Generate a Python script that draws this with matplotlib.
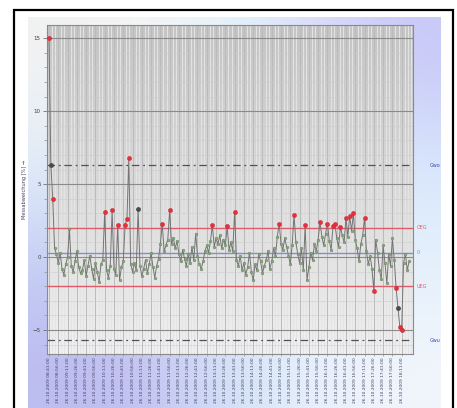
import numpy as np
import matplotlib
matplotlib.use("Agg")
import matplotlib.pyplot as plt
from matplotlib.patches import Rectangle
from matplotlib.colors import to_rgb

# ---------------- data ----------------
values = [
    15.0, 6.3, 4.0, 0.6, 0.2, -0.4, 0.3, -0.8, -1.2, -0.5,
    0.0, 1.9, -0.6, -1.0, -0.3, 0.4, -0.7, -1.1, -0.9, -0.2,
    -1.3, -0.6, 0.1, -0.8, -1.5, -0.4, -1.0, -1.7, -0.5, -0.2,
    3.1, -0.9, -1.4, -0.6, 3.2, -0.8, -1.2, 2.2, -1.6, -0.7,
    -0.3, 2.2, 2.6, 6.8, -0.5, -1.0, -0.4, -0.9, 3.3, -0.6,
    -1.3, -0.8, -0.2, -1.1, -0.5, 0.3, -0.7, -1.4, -0.6, -0.1,
    0.9, 2.3, 0.4, 0.8, 1.2, 3.2, 0.9, 1.3, 0.6, 1.1,
    0.2, -0.3, 0.5, -0.1, -0.6, 0.2, -0.4, 0.7, -0.2, 1.6,
    0.1, -0.5, -0.8, -0.3, 0.4, 0.8, 0.3, 1.1, 2.2, 0.7,
    1.3, 0.9, 1.5, 0.6, 1.2, 0.8, 2.1, 0.5, 1.0, 0.4,
    3.1, -0.2, -0.6, 0.1, -0.9, -0.4, -1.2, -0.7, 0.3, -1.0,
    -1.6, -0.5, -0.9, 0.2, -0.3, -1.1, -0.6, -0.2, 0.4, -0.8,
    -0.3, 0.6, 0.1, 1.4, 2.3, 0.9, 0.5, 1.3, 0.7, 0.1,
    -0.5, 0.8, 2.9, 1.0, 0.2, -0.4, 0.6, -0.9, 2.2, -1.6,
    -0.7, 0.3, -0.2, 0.9, 0.4, 1.2, 2.4, 1.4, 0.8, 1.6,
    2.3, 1.1, 0.5, 2.1, 2.3, 1.3, 0.7, 2.05, 1.5, 1.0,
    2.7, 1.4, 2.8, 1.8, 3.0, 1.2, 0.6, -0.3, 0.9, 1.5,
    2.7, 0.4, -0.5, 0.1, -0.8, -2.3, 1.2, 0.3, -0.9, -1.5,
    0.8, -0.4, -1.8, 0.2, -0.6, 1.3, -0.2, -2.1, -3.5, -4.8,
    -5.0, -0.4, 0.2, -0.9, -0.3,
]
dark_points = [1, 48, 188]          # points drawn dark grey

oeg = 2.0        # upper limit
ueg = -2.0       # lower limit
center = 0.3     # centre line
gwo = 6.3        # upper warning
gwu = -5.7       # lower warning

tick_labels = [
    "26.10.2009 08:41:00", "26.10.2009 08:56:00", "26.10.2009 09:11:00",
    "26.10.2009 09:26:00", "26.10.2009 09:41:00", "26.10.2009 09:56:00",
    "26.10.2009 10:11:00", "26.10.2009 10:26:00", "26.10.2009 10:41:00",
    "26.10.2009 10:56:00", "26.10.2009 11:11:00", "26.10.2009 11:26:00",
    "26.10.2009 11:41:00", "26.10.2009 11:56:00", "26.10.2009 12:11:00",
    "26.10.2009 12:26:00", "26.10.2009 12:41:00", "26.10.2009 12:56:00",
    "26.10.2009 13:11:00", "26.10.2009 13:26:00", "26.10.2009 13:41:00",
    "26.10.2009 13:56:00", "26.10.2009 14:11:00", "26.10.2009 14:26:00",
    "26.10.2009 14:41:00", "26.10.2009 14:56:00", "26.10.2009 15:11:00",
    "26.10.2009 15:26:00", "26.10.2009 15:41:00", "26.10.2009 15:56:00",
    "26.10.2009 16:11:00", "26.10.2009 16:26:00", "26.10.2009 16:41:00",
    "26.10.2009 16:56:00", "26.10.2009 17:11:00", "26.10.2009 17:26:00",
    "26.10.2009 17:41:00", "26.10.2009 17:56:00", "26.10.2009 18:11:00",
]
y_label = "Messabweichung [%] \u2192"

# ---------------- figure ----------------
W, H = 457, 408
fig = plt.figure(figsize=(W / 100, H / 100), dpi=100)
fig.patch.set_facecolor("white")

# gradient background of the chart image
bg = fig.add_axes([28 / W, 0, 413 / W, 1 - 17 / H], zorder=0)
grid_cols = [
    ["#f2f2f2", "#f6f6f6", "#e2f4fc", "#dcdcf8", "#c8c8f8"],
    ["#e2eefa", "#eeeeee", "#eaeaea", "#e4ecfa", "#d8e8fc"],
    ["#c4cef4", "#e0e0f0", "#e8eef8", "#e6f0fc", "#e4f0fc"],
    ["#bcbcf0", "#c2c2f2", "#d4e4f8", "#e8f0fc", "#f2f6fc"],
]
arr = np.array([[to_rgb(c) for c in row] for row in grid_cols])
bg.imshow(arr, aspect="auto", interpolation="bicubic", extent=[0, 1, 0, 1])
bg.set_axis_off()

# black frame
fig.patches.append(Rectangle((14 / W, -0.05), 439 / W, 1.05 - 10 / H,
                             transform=fig.transFigure, fill=False,
                             edgecolor="black", linewidth=1.6, zorder=10))

ax = fig.add_axes([47 / W, 1 - 354 / H, 366 / W, 329 / H], zorder=1)
ymin, ymax = -6.64, 15.9
xmin, xmax = -1.08, 196.1
ax.set_xlim(xmin, xmax)
ax.set_ylim(ymin, ymax)

# plot area gradient
grad = np.linspace(0.77, 0.94, 64).reshape(-1, 1)
ax.imshow(np.dstack([grad, grad, grad]), aspect="auto",
          extent=[xmin, xmax, ymin, ymax], origin="upper", zorder=0)

x = np.arange(len(values))
tick_pos = np.arange(len(tick_labels)) * 5

# vertical grid lines
for t in np.arange(0, xmax, 5 / 3):
    ax.axvline(t, color="#e4e4e4", lw=0.7, zorder=1)
for t in tick_pos:
    ax.axvline(t, color="#b4b4b4", lw=0.6, zorder=1)
# horizontal grid
for yv in range(-6, 16):
    ax.axhline(yv, color="#cccccc", lw=0.4, zorder=1)
for yv in [-5, 0, 5, 10, 15]:
    ax.axhline(yv, color="#8a8a8a", lw=0.8, zorder=1.5)

# limit lines
ax.axhline(oeg, color="#e05a6a", lw=1.0, zorder=2)
ax.axhline(ueg, color="#e05a6a", lw=1.0, zorder=2)
ax.axhline(center, color="#8090c8", lw=1.0, zorder=2)
ax.axhline(gwo, color="#505060", lw=0.9, ls=(0, (6, 3, 1.5, 3)), zorder=2)
ax.axhline(gwu, color="#505060", lw=0.9, ls=(0, (6, 3, 1.5, 3)), zorder=2)

# series
vals = np.array(values)
ax.plot(x, vals, color="#747474", lw=0.7, zorder=3)
is_dark = np.isin(x, dark_points)
is_red = (np.abs(vals) > 2.0) & ~is_dark
is_green = ~is_red & ~is_dark
ax.scatter(x[is_green], vals[is_green], s=4, color="#86a878",
           edgecolors="#6a8460", linewidths=0.3, zorder=4)
ax.scatter(x[is_dark], vals[is_dark], s=6, color="#4a4a4a", zorder=4)
ax.scatter(x[is_red], vals[is_red], s=9, color="#e8303a",
           edgecolors="#c02030", linewidths=0.3, zorder=5)

# right side labels
tr = ax.get_yaxis_transform()
ax.text(1.01, oeg, "OEG", transform=tr, color="#e05a6a", fontsize=3.5,
        va="center", ha="left", clip_on=False)
ax.text(1.01, ueg, "UEG", transform=tr, color="#e05a6a", fontsize=3.5,
        va="center", ha="left", clip_on=False)
ax.text(1.01, center, "0", transform=tr, color="#8090c8", fontsize=3.5,
        va="center", ha="left", clip_on=False)
ax.text(1.045, gwo, "Gwo", transform=tr, color="#3a4ab0", fontsize=3.5,
        va="center", ha="left", clip_on=False)
ax.text(1.045, gwu, "Gwu", transform=tr, color="#3a4ab0", fontsize=3.5,
        va="center", ha="left", clip_on=False)

# axes styling
ax.set_yticks([-5, 0, 5, 10, 15])
ax.set_yticks(range(-6, 16), minor=True)
ax.tick_params(axis="y", which="major", labelsize=4, length=3, width=0.6,
               color="#707070", labelcolor="#404040", pad=1.5)
ax.tick_params(axis="y", which="minor", length=2, width=0.5, color="#909090")
ax.set_xticks(tick_pos)
ax.set_xticklabels(tick_labels, rotation=90, fontsize=3.2, color="#404060")
ax.tick_params(axis="x", length=1.5, width=0.5, color="#909090", pad=1)
ax.set_ylabel(y_label, fontsize=3.6, color="#404060", labelpad=4)
for s in ax.spines.values():
    s.set_color("#8a8a8a")
    s.set_linewidth(0.8)

fig.savefig("out.png", dpi=100)
